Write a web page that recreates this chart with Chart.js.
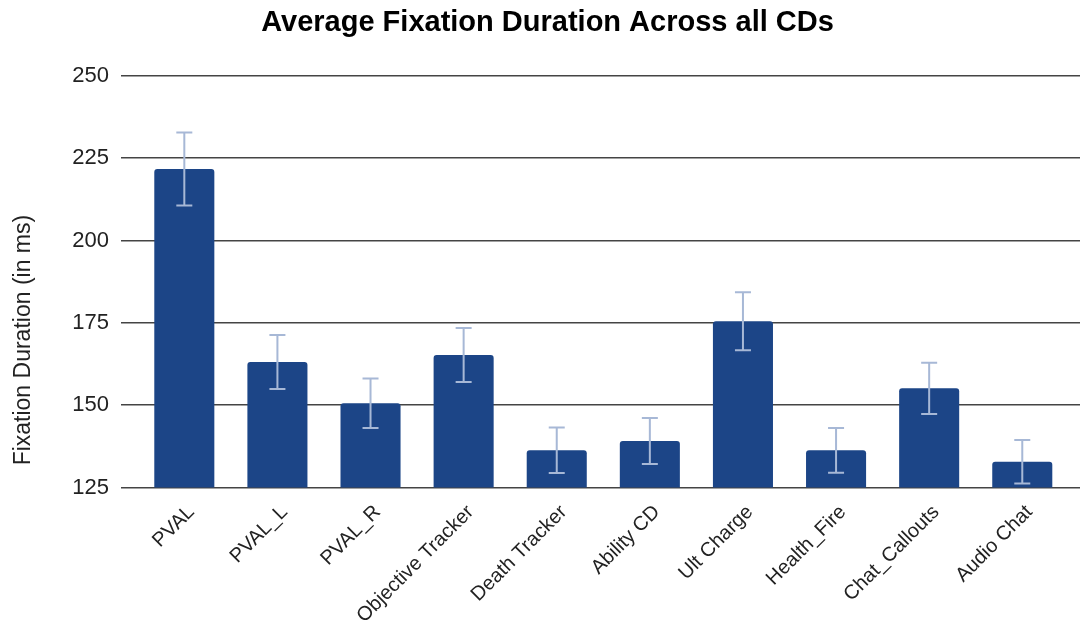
<!DOCTYPE html>
<html>
<head>
<meta charset="utf-8">
<script src="https://cdn.jsdelivr.net/npm/chart.js@4/dist/chart.umd.min.js"></script>
<style>
  html, body { margin: 0; padding: 0; background: #ffffff; }
  #wrap { width: 1080px; height: 629px; }
</style>
</head>
<body>
<div id="wrap"><canvas id="c" width="1080" height="629"></canvas></div>
<script>
const categories = ["PVAL", "PVAL_L", "PVAL_R", "Objective Tracker", "Death Tracker",
                    "Ability CD", "Ult Charge", "Health_Fire", "Chat_Callouts", "Audio Chat"];
const meanDuration = [221.7, 163.1, 150.6, 165.2, 136.3, 139.1, 175.5, 136.3, 155.1, 132.8];
const errorMargin  = [11.1, 8.2, 7.5, 8.2, 6.9, 7.0, 8.8, 6.8, 7.8, 6.6];
const yTicks = [125, 150, 175, 200, 225, 250];
const yAxisTitle = 'Fixation Duration (in ms)';

const FONT = "'Liberation Sans', Arial, sans-serif";

const errorBarPlugin = {
  id: 'errorBars',
  afterDatasetsDraw(chart) {
    const meta = chart.getDatasetMeta(0);
    const yScale = chart.scales.y;
    const ctx = chart.ctx;
    ctx.save();
    ctx.strokeStyle = '#a7b8d6';
    ctx.lineWidth = 2;
    meta.data.forEach((bar, i) => {
      const v = meanDuration[i], e = errorMargin[i];
      const x = bar.x;
      const yTop = yScale.getPixelForValue(v + e);
      const yBot = yScale.getPixelForValue(v - e);
      const cap = 8;
      ctx.beginPath();
      ctx.moveTo(x, yTop); ctx.lineTo(x, yBot);
      ctx.moveTo(x - cap, yTop); ctx.lineTo(x + cap, yTop);
      ctx.moveTo(x - cap, yBot); ctx.lineTo(x + cap, yBot);
      ctx.stroke();
    });
    ctx.restore();
  }
};

// y-axis title, placed as in the reference (lower than the chart-area centre)
const yTitlePlugin = {
  id: 'yTitle',
  afterDraw(chart) {
    const ctx = chart.ctx;
    const area = chart.chartArea;
    ctx.save();
    ctx.translate(24, area.top + (area.bottom - area.top) * 0.642);
    ctx.rotate(-Math.PI / 2);
    ctx.font = "23px " + FONT;
    ctx.fillStyle = '#222222';
    ctx.textAlign = 'center';
    ctx.textBaseline = 'middle';
    ctx.fillText(yAxisTitle, 0, 0);
    ctx.restore();
  }
};

new Chart(document.getElementById('c'), {
  type: 'bar',
  data: {
    datasets: [{
      data: meanDuration.map((v, i) => ({ x: i, y: v })),
      backgroundColor: '#1c4587',
      borderRadius: { topLeft: 3, topRight: 3, bottomLeft: 0, bottomRight: 0 },
      borderSkipped: 'start',
      categoryPercentage: 1.0,
      barPercentage: 0.645
    }]
  },
  options: {
    responsive: false,
    animation: false,
    devicePixelRatio: 1,
    layout: { padding: { left: 15, right: 0, top: 0, bottom: 0 } },
    plugins: {
      legend: { display: false },
      tooltip: { enabled: false },
      title: {
        display: true,
        text: 'Average Fixation Duration Across all CDs',
        color: '#000000',
        font: { family: FONT, size: 29, weight: 'bold' },
        padding: { top: 6, bottom: 35 }
      }
    },
    scales: {
      x: {
        type: 'linear',
        offset: false,
        min: -0.68,
        max: 9.62,
        grid: { display: false },
        border: { display: false },
        afterBuildTicks(scale) {
          scale.ticks = categories.map((_, i) => ({ value: i }));
        },
        afterFit(scale) { scale.height = 141.5; },
        ticks: {
          autoSkip: false,
          maxRotation: 45,
          minRotation: 45,
          padding: 5,
          labelOffset: 7,
          color: '#222222',
          font: { family: FONT, size: 20 },
          callback: (v) => categories[v] ?? ''
        }
      },
      y: {
        type: 'linear',
        min: 125,
        max: 250,
        afterBuildTicks(scale) {
          scale.ticks = yTicks.map(v => ({ value: v }));
        },
        afterFit(scale) { scale.width = 106; },
        grid: { color: '#444444', lineWidth: 1.4, drawTicks: false },
        border: { display: false },
        ticks: {
          padding: 12,
          color: '#222222',
          font: { family: FONT, size: 22 }
        },
        title: { display: false }
      }
    }
  },
  plugins: [errorBarPlugin, yTitlePlugin]
});
</script>
</body>
</html>
